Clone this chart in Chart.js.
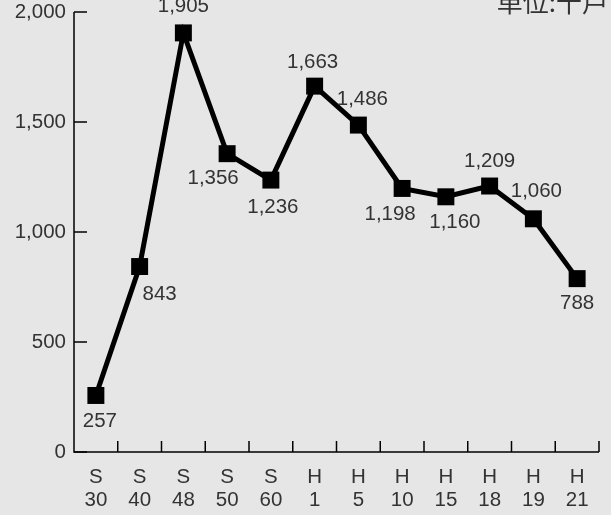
<!DOCTYPE html>
<html lang="ja">
<head>
    <meta charset="UTF-8">
    <title>単位:千戸</title>
    <script src="https://cdn.jsdelivr.net/npm/chart.js"></script>
    <style>
        html, body { margin: 0; padding: 0; background: #e6e6e6; }
        #wrap { width: 611px; height: 515px; }
    </style>
</head>
<body>
    <div id="wrap"><canvas id="grafico"></canvas></div>

    <script>
        // datos
        const eras = ['S', 'S', 'S', 'S', 'S', 'H', 'H', 'H', 'H', 'H', 'H', 'H'];
        const anios = ['30', '40', '48', '50', '60', '1', '5', '10', '15', '18', '19', '21'];
        const valores = [257, 843, 1905, 1356, 1236, 1663, 1486, 1198, 1160, 1209, 1060, 788];
        const ticksY = [0, 500, 1000, 1500, 2000];
        const unidad = '単位:千戸';

        // desplazamiento de cada etiqueta respecto al punto
        const posEtiquetas = [
            [4, 26], [20, 28], [0, -27], [-14, 25], [2, 27], [-2, -24],
            [4, -26], [-12, 26], [9, 26], [0, -25], [3, -27], [0, 25]
        ];

        const fuente = '"Liberation Sans", Arial, sans-serif';

        // ejes, marcas hacia dentro, etiquetas de valores y unidad
        const dibujoExtra = {
            id: 'dibujoExtra',
            afterDatasetsDraw(chart) {
                const ctx = chart.ctx;
                const area = chart.chartArea;
                const y = chart.scales.y;
                ctx.save();
                ctx.strokeStyle = '#000';
                ctx.lineWidth = 1.5;
                ctx.beginPath();
                ctx.moveTo(area.left, y.getPixelForValue(2000));
                ctx.lineTo(area.left, area.bottom);
                ctx.lineTo(area.right, area.bottom);
                ctx.stroke();

                ticksY.forEach(v => {
                    const py = y.getPixelForValue(v);
                    ctx.beginPath();
                    ctx.moveTo(area.left, py);
                    ctx.lineTo(area.left + 13, py);
                    ctx.stroke();
                });

                const n = anios.length;
                const ancho = (area.right - area.left) / n;
                for (let i = 1; i <= n; i++) {
                    const px = area.left + ancho * i;
                    ctx.beginPath();
                    ctx.moveTo(px, area.bottom);
                    ctx.lineTo(px, area.bottom - 11);
                    ctx.stroke();
                }

                ctx.fillStyle = '#333';
                ctx.font = '20.5px ' + fuente;
                ctx.textAlign = 'center';
                ctx.textBaseline = 'middle';
                chart.getDatasetMeta(0).data.forEach((p, i) => {
                    const d = posEtiquetas[i];
                    ctx.fillText(valores[i].toLocaleString('en-US'), p.x + d[0], p.y + d[1]);
                });

                ctx.font = '26px "Noto Sans CJK JP", sans-serif';
                ctx.textAlign = 'right';
                ctx.textBaseline = 'alphabetic';
                ctx.fillText(unidad, 608, 12);
                ctx.restore();
            }
        };

        const ctx = document.getElementById('grafico').getContext('2d');
        const grafico = new Chart(ctx, {
            type: 'line',
            data: {
                labels: eras.map((e, i) => [e, anios[i]]),
                datasets: [{
                    data: valores,
                    borderColor: '#000',
                    backgroundColor: '#000',
                    borderWidth: 5,
                    tension: 0,
                    pointStyle: 'rect',
                    pointRadius: 12,
                    pointBorderWidth: 0,
                    pointBackgroundColor: '#000'
                }]
            },
            options: {
                responsive: true,
                maintainAspectRatio: false,
                animation: false,
                layout: { padding: { top: 10, right: 8, left: 0, bottom: 0 } },
                plugins: { legend: { display: false }, tooltip: { enabled: false } },
                scales: {
                    x: {
                        offset: true,
                        grid: { display: false },
                        border: { display: false },
                        ticks: {
                            color: '#333',
                            font: { family: fuente, size: 20.5, lineHeight: 1.12 },
                            padding: 6,
                            maxRotation: 0,
                            autoSkip: false
                        },
                        afterFit(s) { s.height = 63; s.paddingLeft = 0; s.paddingRight = 0; }
                    },
                    y: {
                        min: 0,
                        max: 2000,
                        grid: { display: false, drawTicks: false },
                        border: { display: false },
                        afterBuildTicks(s) { s.ticks = ticksY.map(v => ({ value: v })); },
                        ticks: {
                            color: '#333',
                            font: { family: fuente, size: 20.5 },
                            padding: 8,
                            callback: v => v.toLocaleString('en-US')
                        },
                        afterFit(s) { s.width = 74; s.paddingTop = 0; s.paddingBottom = 0; }
                    }
                }
            },
            plugins: [dibujoExtra]
        });
    </script>
</body>
</html>
